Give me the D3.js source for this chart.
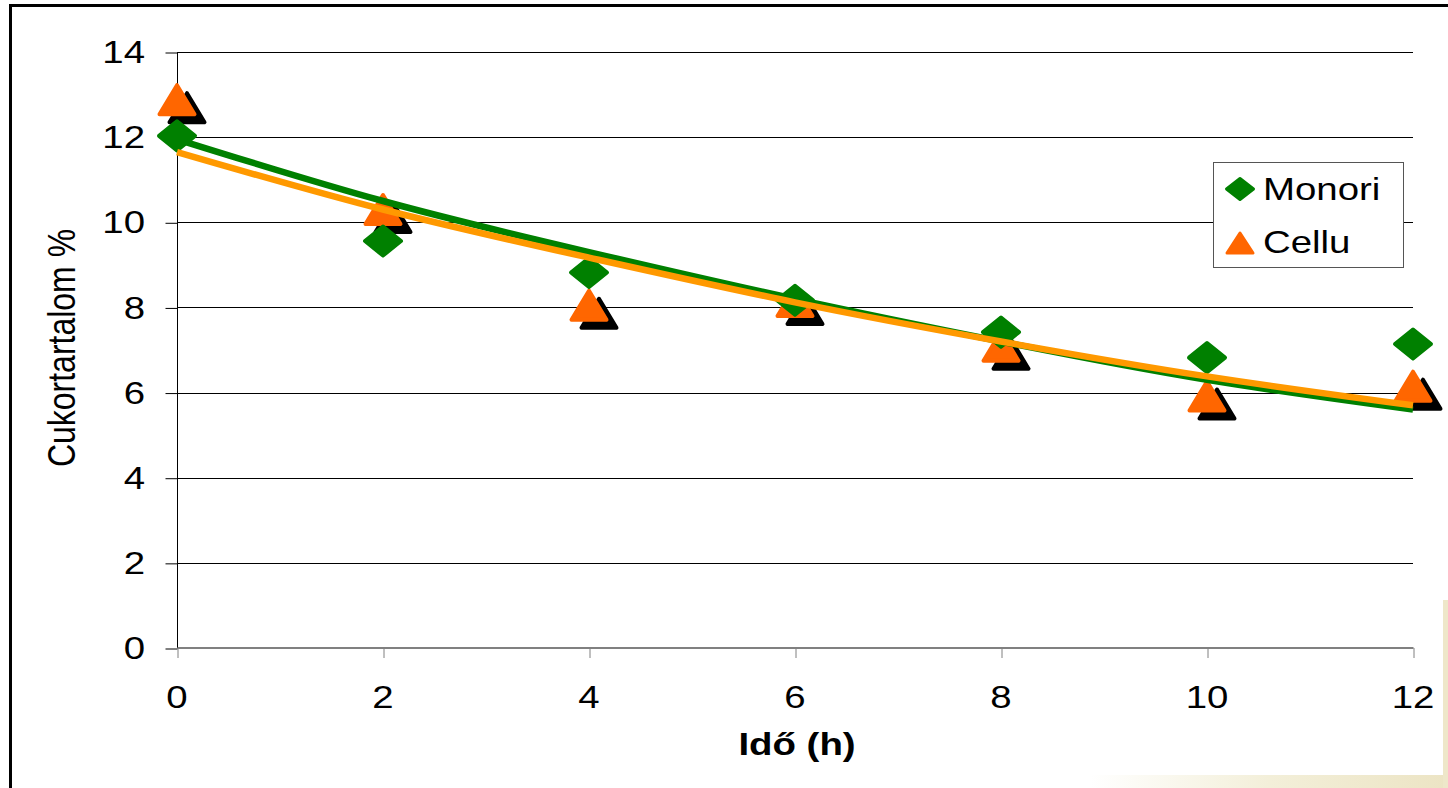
<!DOCTYPE html>
<html>
<head>
<meta charset="utf-8">
<script src="https://cdn.jsdelivr.net/npm/d3@7"></script>
<style>
  html, body { margin: 0; padding: 0; background: #fff; }
  svg { display: block; }
  text { font-family: "Liberation Sans", Arial, sans-serif; fill: #000; }
</style>
</head>
<body>
<svg id="chart" width="1448" height="788"></svg>
<script>
// ---- data ----
const hours = [0, 2, 4, 6, 8, 10, 12];
const monori = [12.03, 9.56, 8.82, 8.17, 7.42, 6.82, 7.14];
const cellu = [12.88, 10.3, 8.05, 8.14, 7.09, 5.92, 6.15];
const monoriTrend = [11.95, 10.5, 9.3, 8.2, 7.2, 6.3, 5.6];
const celluTrend = [11.65, 10.3, 9.17, 8.12, 7.2, 6.38, 5.7];
const yTicks = [0, 2, 4, 6, 8, 10, 12, 14];
const xTicks = [0, 2, 4, 6, 8, 10, 12];
const seriesNames = ["Monori", "Cellu"];

const svg = d3.select("#chart");
const SX = 1.2; // horizontal stretch of the picture

const x = d3.scaleLinear().domain([0, 12]).range([177, 1413]);
const y = d3.scaleLinear().domain([0, 14]).range([648, 52]);

// background texture at bottom-right edge
const defs = svg.append("defs");
const grad = defs.append("linearGradient").attr("id", "beigeH").attr("x1", "0").attr("x2", "1");
grad.append("stop").attr("offset", "0").attr("stop-color", "#ffffff");
grad.append("stop").attr("offset", "0.5").attr("stop-color", "#f3efd9");
grad.append("stop").attr("offset", "1").attr("stop-color", "#ece4c4");
svg.append("rect").attr("x", 1090).attr("y", 775).attr("width", 358).attr("height", 13).attr("fill", "url(#beigeH)");
svg.append("rect").attr("x", 1443).attr("y", 600).attr("width", 5).attr("height", 188).attr("fill", "#eee7c9");

// outer frame
svg.append("line").attr("x1", 9).attr("x2", 1448).attr("y1", 5.5).attr("y2", 5.5).attr("stroke", "#000").attr("stroke-width", 3);
svg.append("line").attr("x1", 10.5).attr("x2", 10.5).attr("y1", 4).attr("y2", 788).attr("stroke", "#000").attr("stroke-width", 3);

// gridlines
svg.append("g").selectAll("line").data(yTicks.filter(d => d > 0)).join("line")
  .attr("x1", 177).attr("x2", 1413)
  .attr("y1", d => Math.round(y(d)) + 0.5).attr("y2", d => Math.round(y(d)) + 0.5)
  .attr("stroke", "#000").attr("stroke-width", 1);

// y axis
const yAxis = d3.axisLeft(y).tickValues(yTicks).tickSize(12).tickFormat("");
const gy = svg.append("g").attr("transform", "translate(177.5,0.5)").call(yAxis);
gy.selectAll("path,line").attr("stroke", "#000");
gy.select(".domain").attr("d", `M0,${y(14)}V${y(0)}`);
svg.append("g").selectAll("g").data(yTicks).join("g")
  .attr("transform", d => `translate(145,${y(d)}) scale(${SX},1)`)
  .append("text").attr("text-anchor", "end").attr("dy", "0.35em")
  .style("font-size", "32px").text(d => d);

// x axis
const xAxis = d3.axisBottom(x).tickValues(xTicks).tickSize(10).tickFormat("");
const gx = svg.append("g").attr("transform", "translate(0.5,648)").call(xAxis);
gx.selectAll("path,line").attr("stroke", "#808080");
gx.select(".domain").attr("d", `M${x(0)},0H${x(12)}`).attr("stroke-width", 2);
svg.append("g").selectAll("g").data(xTicks).join("g")
  .attr("transform", d => `translate(${x(d)},708) scale(${SX},1)`)
  .append("text").attr("text-anchor", "middle")
  .style("font-size", "32px").text(d => d);

// axis titles
svg.append("g").attr("transform", `translate(797,755) scale(${SX},1)`)
  .append("text").attr("text-anchor", "middle").style("font-size", "32px").style("font-weight", "bold")
  .text("Idő (h)");
svg.append("g").attr("transform", `translate(75,348) scale(${SX},1) rotate(-90)`)
  .append("text").attr("text-anchor", "middle").style("font-size", "32px")
  .text("Cukortartalom %");

// marker shapes
function triPath(w, h) { return `M0,${-h/2}L${w/2},${h/2}L${-w/2},${h/2}Z`; }
function diaPath(w, h) { return `M0,${-h/2}L${w/2},0L0,${h/2}L${-w/2},0Z`; }

const green = "#008000", orange = "#ff6600", lineOrange = "#ff9900";

// Cellu shadows
svg.append("g").selectAll("path").data(hours).join("path")
  .attr("d", triPath(35, 29))
  .attr("transform", (d, i) => `translate(${x(d) + 10},${y(cellu[i]) + 8})`)
  .attr("fill", "#000").attr("stroke", "#000").attr("stroke-width", 4).attr("stroke-linejoin", "round");
// Cellu triangles
svg.append("g").selectAll("path").data(hours).join("path")
  .attr("d", triPath(35, 29))
  .attr("transform", (d, i) => `translate(${x(d)},${y(cellu[i])})`)
  .attr("fill", orange).attr("stroke", orange).attr("stroke-width", 4).attr("stroke-linejoin", "round");
// Monori diamonds
svg.append("g").selectAll("path").data(hours).join("path")
  .attr("d", diaPath(36, 29))
  .attr("transform", (d, i) => `translate(${x(d)},${y(monori[i])})`)
  .attr("fill", green).attr("stroke", green).attr("stroke-width", 4).attr("stroke-linejoin", "round");

// trend lines
const line = d3.line().x(d => x(d[0])).y(d => y(d[1])).curve(d3.curveNatural);
svg.append("path").datum(hours.map((h, i) => [h, monoriTrend[i]]))
  .attr("d", line).attr("fill", "none").attr("stroke", green).attr("stroke-width", 6.5);
svg.append("path").datum(hours.map((h, i) => [h, celluTrend[i]]))
  .attr("d", line).attr("fill", "none").attr("stroke", lineOrange).attr("stroke-width", 6.5);

// legend
const lg = svg.append("g");
lg.append("rect").attr("x", 1213.5).attr("y", 162.5).attr("width", 190).attr("height", 105)
  .attr("fill", "#fff").attr("stroke", "#555").attr("stroke-width", 1);
const legendRows = [
  { name: seriesNames[0], shape: diaPath(27, 21), color: green, cy: 189, base: 200 },
  { name: seriesNames[1], shape: triPath(26, 20), color: orange, cy: 243, base: 253 }
];
legendRows.forEach(r => {
  lg.append("path").attr("d", r.shape).attr("transform", `translate(1240,${r.cy})`)
    .attr("fill", r.color).attr("stroke", r.color).attr("stroke-width", 3).attr("stroke-linejoin", "round");
  lg.append("g").attr("transform", `translate(1263,${r.base}) scale(${SX},1)`)
    .append("text").style("font-size", "32px").text(r.name);
});
</script>
</body>
</html>
